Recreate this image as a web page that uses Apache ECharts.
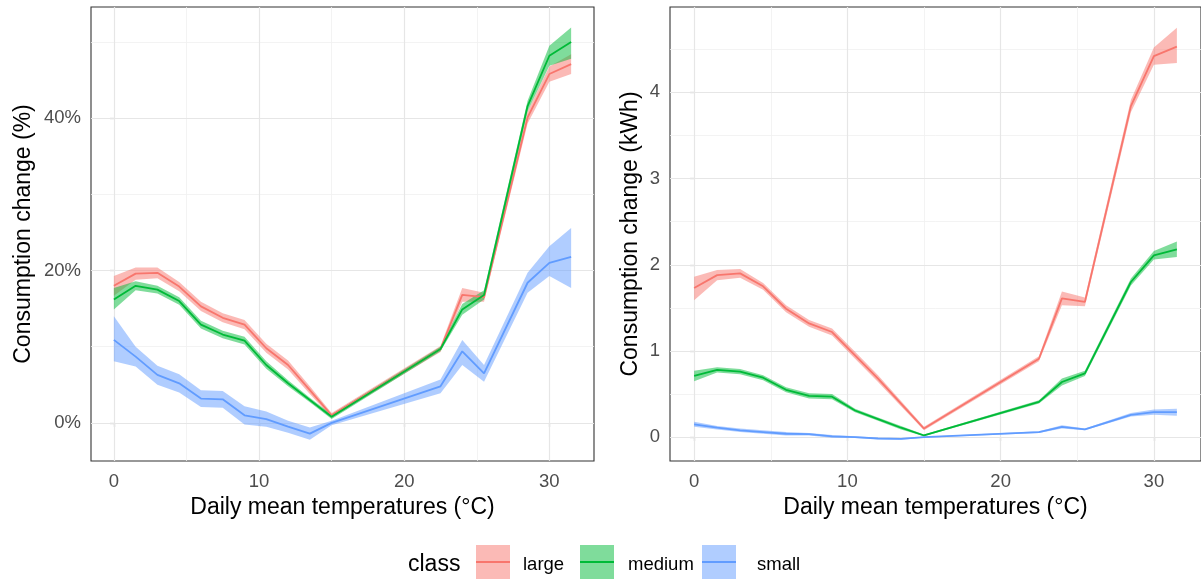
<!DOCTYPE html>
<html><head><meta charset="utf-8">
<script src="https://cdn.jsdelivr.net/npm/echarts@6/dist/echarts.min.js"></script>
<style>html,body{margin:0;padding:0;background:#fff}#c{width:1201px;height:579px}</style>
</head><body><div id="c"></div>
<script>
// ---- data ----
const temps = [0,1.5,3,4.5,6,7.5,9,10.5,12,13.5,15,22.5,24,25.5,28.5,30,31.5];

const largePct   = [18.0,19.6,19.7,17.9,15.3,13.8,12.9,9.8,7.6,4.3,1.0,9.7,16.8,16.5,40.1,45.8,47.1];
const largePctLo = [16.7,18.8,19.0,17.3,14.7,13.2,12.3,9.2,7.0,3.8,0.7,9.3,15.9,15.9,39.3,44.8,45.8];
const largePctHi = [19.3,20.4,20.4,18.5,15.9,14.4,13.5,10.4,8.2,4.8,1.3,10.1,17.7,17.1,40.9,46.8,48.4];

const mediumPct   = [16.2,18.0,17.5,16.0,12.9,11.6,10.8,7.6,5.2,3.0,0.8,9.7,14.9,16.8,41.6,48.2,50.0];
const mediumPctLo = [14.9,17.4,17.0,15.5,12.4,11.1,10.3,7.1,4.8,2.7,0.5,9.4,14.2,16.2,40.9,46.9,47.8];
const mediumPctHi = [17.7,18.6,18.0,16.5,13.4,12.1,11.3,8.1,5.6,3.3,1.1,10.0,15.6,17.4,42.3,49.5,51.9];

const smallPct   = [10.9,8.7,6.3,5.2,3.2,3.1,1.0,0.5,-0.5,-1.4,0.0,4.8,9.4,6.5,18.4,21.0,21.8];
const smallPctLo = [8.1,7.4,5.0,4.0,2.1,2.0,-0.2,-0.5,-1.3,-2.2,-0.3,3.9,7.6,5.4,17.1,19.3,17.7];
const smallPctHi = [14.0,10.0,7.5,6.4,4.3,4.2,2.2,1.5,0.3,-0.6,0.3,5.7,10.9,7.6,19.7,23.2,25.6];

const largeKwh   = [1.73,1.88,1.90,1.75,1.49,1.32,1.22,0.95,0.68,0.39,0.10,0.91,1.61,1.57,3.84,4.42,4.53];
const largeKwhLo = [1.59,1.82,1.85,1.71,1.45,1.28,1.18,0.91,0.64,0.36,0.08,0.88,1.53,1.52,3.77,4.32,4.34];
const largeKwhHi = [1.86,1.94,1.95,1.79,1.53,1.36,1.26,0.99,0.72,0.42,0.12,0.94,1.69,1.62,3.91,4.52,4.75];

const mediumKwh   = [0.71,0.78,0.76,0.69,0.55,0.48,0.47,0.31,0.21,0.11,0.02,0.41,0.64,0.74,1.80,2.11,2.18];
const mediumKwhLo = [0.65,0.75,0.73,0.66,0.52,0.45,0.44,0.29,0.19,0.09,0.01,0.39,0.60,0.71,1.76,2.06,2.09];
const mediumKwhHi = [0.77,0.81,0.79,0.72,0.58,0.51,0.50,0.33,0.23,0.13,0.03,0.43,0.68,0.77,1.84,2.16,2.27];

const smallKwh   = [0.15,0.11,0.08,0.06,0.04,0.035,0.01,0.0,-0.015,-0.02,0.0,0.06,0.12,0.09,0.26,0.29,0.29];
const smallKwhLo = [0.12,0.09,0.06,0.04,0.02,0.02,-0.005,-0.01,-0.025,-0.03,-0.005,0.05,0.10,0.08,0.24,0.26,0.25];
const smallKwhHi = [0.18,0.13,0.10,0.08,0.06,0.05,0.025,0.01,-0.005,-0.01,0.005,0.07,0.14,0.10,0.28,0.32,0.33];

const classes = ['large','medium','small'];
const xTicks = [0,10,20,30];
const xMinor = [5,15,25];
const pctTicks = [0,20,40];
const pctMinor = [10,30,50];
const kwhTicks = [0,1,2,3,4];
const kwhMinor = [0.5,1.5,2.5,3.5,4.5];

// ---- styling ----
const FONT = "'Liberation Sans', Arial, sans-serif";
const lineColor = {large:'#F8766D', medium:'#00BA38', small:'#619CFF'};
const bandColor = {large:'rgba(248,118,109,0.5)', medium:'rgba(0,186,56,0.5)', small:'rgba(97,156,255,0.5)'};

const chart = echarts.init(document.getElementById('c'), null, {renderer:'canvas'});

function bandSeries(idx, name, lo, hi) {
  return {
    type:'custom', name:name, xAxisIndex:idx, yAxisIndex:idx, z:2, silent:true,
    data: temps.map((t,i)=>[t, lo[i], hi[i]]),
    encode:{x:0, y:[1,2]},
    renderItem: function(params, api) {
      if (params.dataIndex !== 0) return null;
      const pts = [];
      for (let i=0;i<temps.length;i++) pts.push(api.coord([temps[i], hi[i]]));
      for (let i=temps.length-1;i>=0;i--) pts.push(api.coord([temps[i], lo[i]]));
      return {type:'polygon', shape:{points:pts}, style:{fill:bandColor[name]}};
    }
  };
}
function lineSeries(idx, name, vals) {
  return {
    type:'line', name:name, xAxisIndex:idx, yAxisIndex:idx, z:3, silent:true,
    showSymbol:false, symbol:'none', animation:false,
    data: temps.map((t,i)=>[t, vals[i]]),
    lineStyle:{color:lineColor[name], width:1.8},
    itemStyle:{color:lineColor[name]}
  };
}
function gridLines(idx, xMaj, xMin, yMaj, yMin) {
  const major = {color:'#e6e6e6', width:1.2, type:'solid'};
  const minor = {color:'#f0f0f0', width:0.8, type:'solid'};
  const d = [];
  xMin.forEach(v=>d.push({xAxis:v, lineStyle:minor}));
  yMin.forEach(v=>d.push({yAxis:v, lineStyle:minor}));
  xMaj.forEach(v=>d.push({xAxis:v, lineStyle:major}));
  yMaj.forEach(v=>d.push({yAxis:v, lineStyle:major}));
  return {
    type:'line', xAxisIndex:idx, yAxisIndex:idx, data:[], z:1, silent:true,
    markLine:{silent:true, z:1, symbol:['none','none'], label:{show:false}, animation:false, data:d}
  };
}
function xAxisDef(idx, name) {
  return {
    type:'value', gridIndex:idx, min:-1.575, max:33.075,
    splitLine:{show:false}, axisLine:{show:false},
    axisTick:{show:true, customValues:xTicks, length:4, lineStyle:{color:'#333', width:1.1}},
    axisLabel:{customValues:xTicks, margin:11, fontSize:18.5, color:'#4d4d4d', fontFamily:FONT},
    name:name, nameLocation:'middle', nameGap:35,
    nameTextStyle:{fontSize:23, color:'#000', fontFamily:FONT}
  };
}
function yAxisDef(idx, name, min, max, ticks, fmt, gap) {
  return {
    type:'value', gridIndex:idx, min:min, max:max,
    splitLine:{show:false}, axisLine:{show:false},
    axisTick:{show:true, customValues:ticks, length:4, lineStyle:{color:'#333', width:1.1}},
    axisLabel:{customValues:ticks, margin:10, fontSize:18.5, color:'#4d4d4d', fontFamily:FONT, formatter:fmt},
    name:name, nameLocation:'middle', nameGap:gap,
    nameTextStyle:{fontSize:23, color:'#000', fontFamily:FONT}
  };
}

const pctData = {large:[largePct,largePctLo,largePctHi], medium:[mediumPct,mediumPctLo,mediumPctHi], small:[smallPct,smallPctLo,smallPctHi]};
const kwhData = {large:[largeKwh,largeKwhLo,largeKwhHi], medium:[mediumKwh,mediumKwhLo,mediumKwhHi], small:[smallKwh,smallKwhLo,smallKwhHi]};

const series = [gridLines(0, xTicks, xMinor, pctTicks, pctMinor), gridLines(1, xTicks, xMinor, kwhTicks, kwhMinor)];
classes.forEach(c=>{ series.push(bandSeries(0, c, pctData[c][1], pctData[c][2])); });
classes.forEach(c=>{ series.push(lineSeries(0, c, pctData[c][0])); });
classes.forEach(c=>{ series.push(bandSeries(1, c, kwhData[c][1], kwhData[c][2])); });
classes.forEach(c=>{ series.push(lineSeries(1, c, kwhData[c][0])); });

// legend (drawn as graphic keys)
const legendKeys = [
  {name:'large', kx:476, tx:523},
  {name:'medium', kx:580, tx:628},
  {name:'small', kx:702, tx:757}
];
const graphics = [{type:'text', x:408, y:565, style:{text:'class', font:"23px "+FONT, fill:'#000', verticalAlign:'middle'}}];
legendKeys.forEach(k=>{
  graphics.push({type:'rect', shape:{x:k.kx, y:545, width:34, height:34}, style:{fill:bandColor[k.name]}});
  graphics.push({type:'line', shape:{x1:k.kx, y1:562, x2:k.kx+34, y2:562}, style:{stroke:lineColor[k.name], lineWidth:1.8}});
  graphics.push({type:'text', x:k.tx, y:565, style:{text:k.name, font:"18.5px "+FONT, fill:'#000', verticalAlign:'middle'}});
});

chart.setOption({
  animation:false,
  backgroundColor:'#fff',
  grid:[
    {left:91, top:7, width:503, height:454, show:true, borderColor:'#333', borderWidth:1.1, backgroundColor:'transparent'},
    {left:670, top:7, width:532, height:454, show:true, borderColor:'#333', borderWidth:1.1, backgroundColor:'transparent'}
  ],
  xAxis:[xAxisDef(0,'Daily mean temperatures (°C)'), xAxisDef(1,'Daily mean temperatures (°C)')],
  yAxis:[
    yAxisDef(0,'Consumption change (%)', -5, 54.6, pctTicks, '{value}%', 56),
    yAxisDef(1,'Consumption change (kWh)', -0.276, 4.99, kwhTicks, '{value}', 28)
  ],
  graphic: graphics,
  series: series
});
</script></body></html>
